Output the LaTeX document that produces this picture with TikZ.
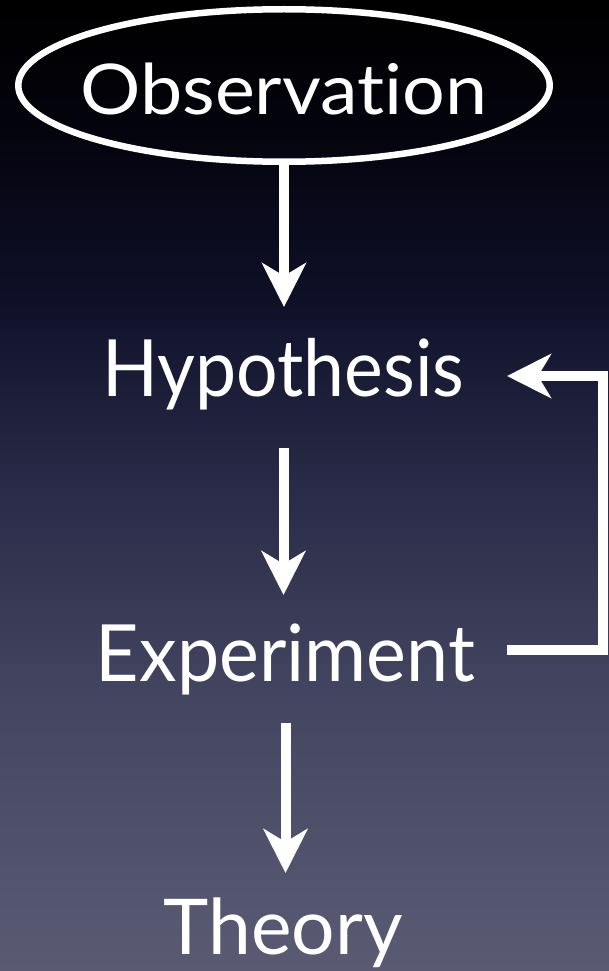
\documentclass[tikz,border=0pt]{standalone}
\usepackage{fontspec}
\setmainfont{Lato}[Ligatures={NoCommon,NoContextual}]
\usepackage{graphicx}
\usetikzlibrary{arrows.meta,shapes.geometric,calc}
\definecolor{bgTop}{HTML}{000000}
\definecolor{bgA}{HTML}{03030C}
\definecolor{bgB}{HTML}{0F1028}
\definecolor{bgC}{HTML}{2A2B48}
\definecolor{bgD}{HTML}{444560}
\definecolor{bgE}{HTML}{5A5B73}
\pgfdeclareverticalshading{skybg}{100bp}{color(0bp)=(bgE); color(25bp)=(bgE); color(39bp)=(bgD); color(49.8bp)=(bgC); color(59.6bp)=(bgB); color(68.8bp)=(bgA); color(75bp)=(bgTop); color(100bp)=(bgTop)}
\begin{document}
\begin{tikzpicture}[x=1pt,y=-1pt,
  lbl/.style={text=white, inner sep=0pt, outer sep=0pt, anchor=base, text depth=0pt},
  flow/.style={draw=white, line width=10pt, -{Stealth[length=44pt,width=44pt,inset=13pt]}},
]
\shade[shading=skybg] (0,0) rectangle (609,971);
\useasboundingbox (0,0) rectangle (609,971);
\node[draw=white, line width=6.5pt, ellipse, minimum width=531.5pt, minimum height=152.5pt,
      inner sep=0pt, outer sep=0pt, text=white, text height=59pt, text depth=0pt,
      font=\fontsize{70}{70}\selectfont] (obs) at (284,85.5)
  {\makebox[0pt]{\resizebox{407pt}{\height}{Observation}}};
\node[lbl, text height=57pt, font=\fontsize{79}{79}\selectfont] (hyp) at (283.5,396)
  {\resizebox{362pt}{\height}{Hypothesis}};
\node[lbl, text height=57pt, font=\fontsize{79}{79}\selectfont] (exp) at (285.5,681)
  {\resizebox{379pt}{\height}{Experiment}};
\node[lbl, text height=55pt, font=\fontsize{77}{77}\selectfont] (theory) at (283,954)
  {\resizebox{239pt}{\height}{Theory}};
\draw[flow, shorten >=32pt] (obs.south) -- (obs.south |- hyp.north);
\draw[flow, shorten <=52pt, shorten >=29pt] (hyp.south) -- (hyp.south |- exp.north);
\draw[flow, shorten <=42pt, shorten >=26pt] (exp.south) -- (exp.south |- theory.north);
\draw[flow] ($(exp.base)+(221.5,-31)$) -- ++(96,0) |- ($(hyp.base)+(223.5,-20)$);
\end{tikzpicture}
\end{document}
